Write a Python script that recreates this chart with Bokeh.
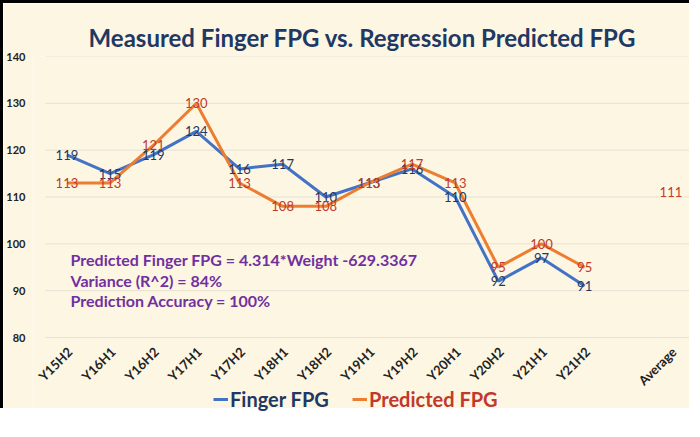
from bokeh.plotting import figure
from bokeh.models import (ColumnDataSource, Range1d, Label, FixedTicker, Title,
                          Legend, LegendItem)
from bokeh.core.properties import value
from bokeh.embed import file_html
from bokeh.resources import INLINE
import math

# ---- data ----
periods = ["Y15H2", "Y16H1", "Y16H2", "Y17H1", "Y17H2", "Y18H1", "Y18H2",
           "Y19H1", "Y19H2", "Y20H1", "Y20H2", "Y21H1", "Y21H2"]
finger_fpg = [119, 115, 119, 124, 116, 117, 110, 113, 116, 110, 92, 97, 91]
predicted_fpg = [113, 113, 121, 130, 113, 108, 108, 113, 117, 113, 95, 100, 95]
gap_label = ""
average_label = "Average"
predicted_average = 111
y_ticks = [80, 90, 100, 110, 120, 130, 140]
series_names = ["Finger FPG", "Predicted FPG"]

title_text = "Measured Finger FPG vs. Regression Predicted FPG"
notes = ["Predicted Finger FPG = 4.314*Weight -629.3367",
         "Variance (R^2) = 84%",
         "Prediction Accuracy = 100%"]

# ---- styles / layout ----
BG = "#FDF6E3"
BLUE = "#4472C4"
ORANGE = "#ED7D31"
NAVY = "#1F3864"
RED = "#C0392B"
PURPLE = "#7030A0"
FONT = "Lato"
W, H = 689, 408
TOP = 53                     # space above the plotting area
LEFT = 21                    # space for the y tick labels
PLOT_PX = 281                # pixels between the 140 and 80 grid lines
SLOT_PX = 43.67              # pixels per category slot
GRID_INSET_PX = 13           # grid lines start this far right of the frame edge

categories = periods + [gap_label, average_label]
cat_pos = list(range(len(categories)))
period_pos = cat_pos[:len(periods)]
average_pos = categories.index(average_label)

Y_MIN, Y_MAX = y_ticks[0], y_ticks[-1]
px_per_unit = PLOT_PX / (Y_MAX - Y_MIN)
y_bottom = Y_MAX - (H - TOP) / px_per_unit       # room for labels and legend
x_start = -0.5 - GRID_INSET_PX / SLOT_PX
x_end = len(categories) - 0.5

p = figure(x_range=Range1d(x_start, x_end), y_range=Range1d(y_bottom, Y_MAX),
           width=W, height=H, x_axis_location=None,
           output_backend="svg", toolbar_location=None,
           min_border_left=LEFT, min_border_right=0, min_border_top=TOP,
           min_border_bottom=0)
p.styles = {"border-top": "3px solid black", "border-left": "3px solid black"}

p.background_fill_color = BG
p.border_fill_color = BG
p.outline_line_color = None

p.title = Title(text=title_text, align="center", standoff=10,
                text_font=FONT, text_font_size="24px", text_font_style="bold",
                text_color=NAVY)

# y axis
p.yaxis.ticker = FixedTicker(ticks=y_ticks)
p.yaxis.axis_line_color = None
p.yaxis.major_tick_line_color = None
p.yaxis.minor_tick_line_color = None
p.yaxis.major_label_standoff = 1
p.yaxis.major_label_text_font = FONT
p.yaxis.major_label_text_font_size = "11px"
p.yaxis.major_label_text_font_style = "bold"
p.yaxis.major_label_text_color = "#222222"
p.xgrid.grid_line_color = None
p.ygrid.grid_line_color = None

# horizontal grid lines across the category slots
grid_src = ColumnDataSource(dict(x0=[-0.5] * len(y_ticks), x1=[x_end] * len(y_ticks),
                                 y=y_ticks))
p.segment("x0", "y", "x1", "y", source=grid_src, line_color="#E6E1D3", line_width=1)

# category labels (rotated) under the 80 line
cat_src = ColumnDataSource(dict(x=cat_pos, y=[Y_MIN] * len(categories), t=categories))
p.text("x", "y", text="t", source=cat_src, angle=math.pi / 4,
       text_align="right", text_baseline="middle", x_offset=3, y_offset=12,
       text_font=value(FONT), text_font_size="13px", text_font_style="bold",
       text_color="#222222")

src = ColumnDataSource(dict(x=period_pos, finger=finger_fpg, pred=predicted_fpg,
                            finger_txt=[str(v) for v in finger_fpg],
                            pred_txt=[str(v) for v in predicted_fpg]))

r_f = p.line("x", "finger", source=src, line_color=BLUE, line_width=3)
r_p = p.line("x", "pred", source=src, line_color=ORANGE, line_width=3)

p.text("x", "finger", text="finger_txt", source=src, text_align="center",
       text_baseline="middle", text_color=NAVY, text_font=value(FONT),
       text_font_size="13px")
p.text("x", "pred", text="pred_txt", source=src, text_align="center",
       text_baseline="middle", text_color=RED, text_font=value(FONT),
       text_font_size="13px")

avg_src = ColumnDataSource(dict(x=[average_pos], y=[predicted_average],
                                t=[str(predicted_average)]))
p.text("x", "y", text="t", source=avg_src, text_align="center",
       text_baseline="middle", text_color=RED, text_font=value(FONT),
       text_font_size="13px")

# notes
for i, line in enumerate(notes):
    p.add_layout(Label(x=38, y=152 - 20.5 * i, x_units="screen", y_units="screen",
                       text=line, text_font=FONT, text_font_size="16px",
                       text_font_style="bold", text_color=PURPLE,
                       text_baseline="middle"))

# legends: one per series so each label has its own colour
def make_legend(label, rend, color, loc):
    return Legend(items=[LegendItem(label=label, renderers=[rend])], location=loc,
                  orientation="horizontal", label_text_font=FONT,
                  label_text_font_size="20px", label_text_font_style="bold",
                  label_text_color=color, glyph_width=15, glyph_height=20,
                  label_standoff=2, padding=0, margin=0, spacing=0,
                  background_fill_alpha=0, border_line_alpha=0)

p.add_layout(make_legend(series_names[0], r_f, NAVY, (181, 0)))
p.add_layout(make_legend(series_names[1], r_p, RED, (320, 0)))

open("out.html", "w").write(file_html(p, INLINE))
